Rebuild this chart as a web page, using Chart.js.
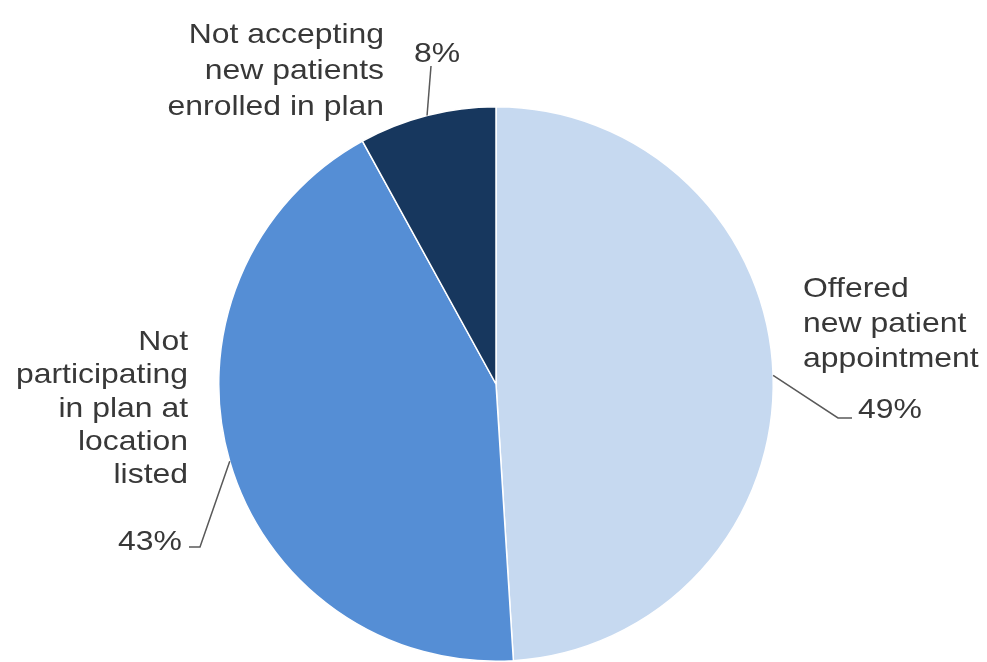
<!DOCTYPE html>
<html>
<head>
<meta charset="utf-8">
<script src="https://cdn.jsdelivr.net/npm/chart.js@4/dist/chart.umd.min.js"></script>
<style>
  html, body { margin: 0; padding: 0; background: #fff; }
  canvas { display: block; }
</style>
</head>
<body>
<canvas id="canvas" width="987" height="662"></canvas>
<script>
// data
const categories = ['Offered new patient appointment', 'Not participating in plan at location listed', 'Not accepting new patients enrolled in plan']
const values = [49, 43, 8]
const labelLines = [
    ['Offered', 'new patient', 'appointment'],
    ['Not', 'participating', 'in plan at', 'location', 'listed'],
    ['Not accepting', 'new patients', 'enrolled in plan'],
]

// where each label sits (layout only)
const labelLayout = [
    { align: 'left', x: 803, baselines: [297, 332, 367], pct: { x: 858, y: 418, align: 'left' }, leader: [[838, 418], [852, 418]] },
    { align: 'right', x: 188, baselines: [350, 383, 417, 450, 483], pct: { x: 182, y: 550, align: 'right' }, leader: [[200, 547], [189, 547]] },
    { align: 'right', x: 384, baselines: [43, 79, 115], pct: { x: 414, y: 62, align: 'left' }, leader: [[431, 66]] },
]

const SX = 1.14
function stretchText(ctx, text, x, y, align) {
    ctx.save()
    ctx.translate(x, y)
    ctx.scale(SX, 1)
    ctx.textAlign = align
    ctx.fillText(text, 0, 0)
    ctx.restore()
}

const labelPlugin = {
    id: 'pieLabels',
    afterDraw(chart) {
        const ctx = chart.ctx
        const meta = chart.getDatasetMeta(0)
        ctx.save()
        ctx.font = '28px "Liberation Sans", Arial, sans-serif'
        ctx.fillStyle = '#383838'
        ctx.textBaseline = 'alphabetic'
        ctx.strokeStyle = '#595959'
        ctx.lineWidth = 1.5
        meta.data.forEach((arc, i) => {
            const p = arc.getProps(['x', 'y', 'startAngle', 'endAngle', 'outerRadius'], true)
            const mid = (p.startAngle + p.endAngle) / 2
            const ax = p.x + Math.cos(mid) * p.outerRadius
            const ay = p.y + Math.sin(mid) * p.outerRadius
            const lay = labelLayout[i]
            ctx.beginPath()
            ctx.moveTo(ax, ay)
            lay.leader.forEach(pt => ctx.lineTo(pt[0], pt[1]))
            ctx.stroke()
            labelLines[i].forEach((line, j) => stretchText(ctx, line, lay.x, lay.baselines[j], lay.align))
            stretchText(ctx, values[i] + '%', lay.pct.x, lay.pct.y, lay.pct.align)
        })
        ctx.restore()
    }
}

const data = {
    labels: categories,
    datasets: [
        {
            data: values,
            backgroundColor: ['#c6d9f0', '#558ed5', '#17375e'],
            borderColor: '#ffffff',
            borderWidth: 1.5,
        },
    ],
}

const config = {
    type: 'pie',
    data: data,
    options: {
        responsive: false,
        animation: false,
        layout: { padding: { top: 106, bottom: -2, left: 5, right: 0 } },
        plugins: {
            legend: { display: false },
            tooltip: { enabled: false },
        },
    },
    plugins: [labelPlugin],
}

const canvas = document.getElementById('canvas')
const chart = new Chart(canvas, config)
</script>
</body>
</html>
